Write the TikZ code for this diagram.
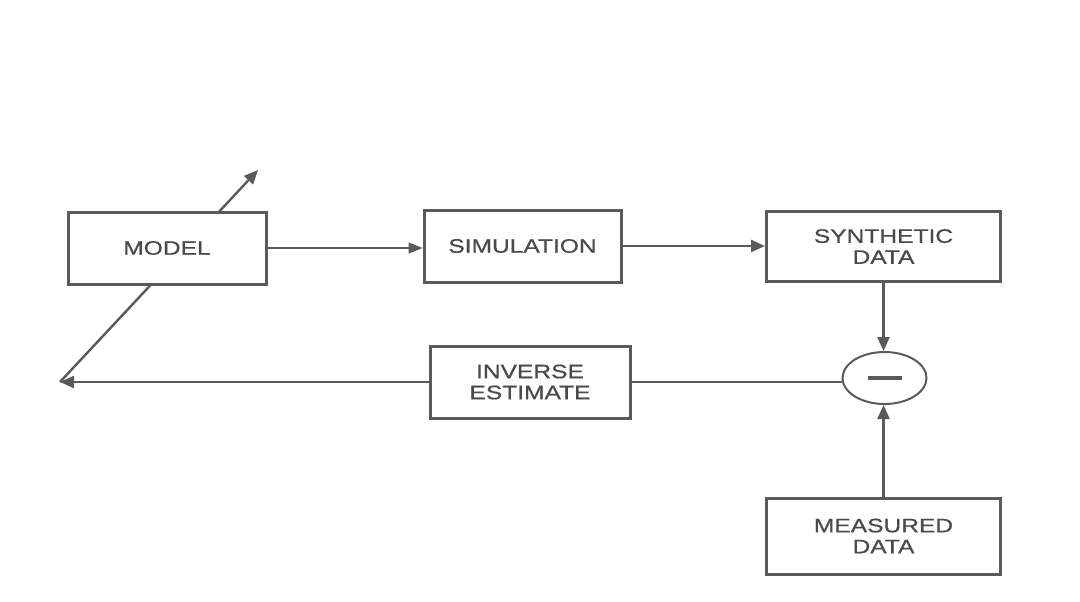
\documentclass[tikz,border=0pt]{standalone}
\usepackage{fontspec}
\setmainfont{Liberation Sans}
\newfontfamily\boxfont[FakeStretch=1.26,FakeBold=0.6]{Liberation Sans}
\usetikzlibrary{arrows.meta,shapes.geometric}
\definecolor{linegray}{HTML}{5A5A5A}
\definecolor{textgray}{HTML}{4A4A4A}
\tikzset{
  blockbox/.style={draw=linegray, line width=1.5pt, fill=white, rectangle,
    inner sep=0pt, align=center, text=textgray,
    font=\boxfont\fontsize{9.75pt}{10.5pt}\selectfont},
  thinconn/.style={draw=linegray, line width=0.7pt, -{Triangle[length=7pt,width=5.5pt]}},
  thickconn/.style={draw=linegray, line width=1.2pt, -{Triangle[length=7pt,width=6pt]}},
  plainconn/.style={draw=linegray, line width=1.2pt},
}
\begin{document}
\begin{tikzpicture}[x=0.5pt,y=-0.5pt]
\useasboundingbox (0,0) rectangle (1080,601);
\coordinate (fb) at (60,382);
\coordinate (tip) at (258,170);
\draw[thickconn] (fb) -- (tip);
\node[blockbox, minimum width=99pt, minimum height=36pt] (model) at (167,248) {MODEL};
\node[blockbox, minimum width=98.5pt, minimum height=36pt] (sim) at (522.5,246) {SIMULATION};
\node[blockbox, minimum width=117pt, minimum height=35pt] (syn) at (883.5,246.5) {SYNTHETIC\\DATA};
\node[blockbox, minimum width=100pt, minimum height=36pt] (inv) at (530,382) {INVERSE\\ESTIMATE};
\node[blockbox, minimum width=117pt, minimum height=38pt] (mea) at (883.5,536) {MEASURED\\DATA};
\node[ellipse, draw=linegray, line width=1pt, fill=white, minimum width=42pt, minimum height=26pt, inner sep=0pt] (circ) at (884.5,378) {\color{linegray}\rule{17pt}{2.2pt}};
\draw[thinconn] (model.east) -- (model.east -| sim.west);
\draw[thickconn] (sim.east) -- (sim.east -| syn.west);
\draw[thickconn] (syn.south) -- (syn.south |- circ.north);
\draw[thickconn] (mea.north) -- (mea.north |- circ.south);
\draw[plainconn] (circ.west |- inv.east) -- (inv.east);
\draw[thickconn] (inv.west) -- (fb);
\end{tikzpicture}
\end{document}
